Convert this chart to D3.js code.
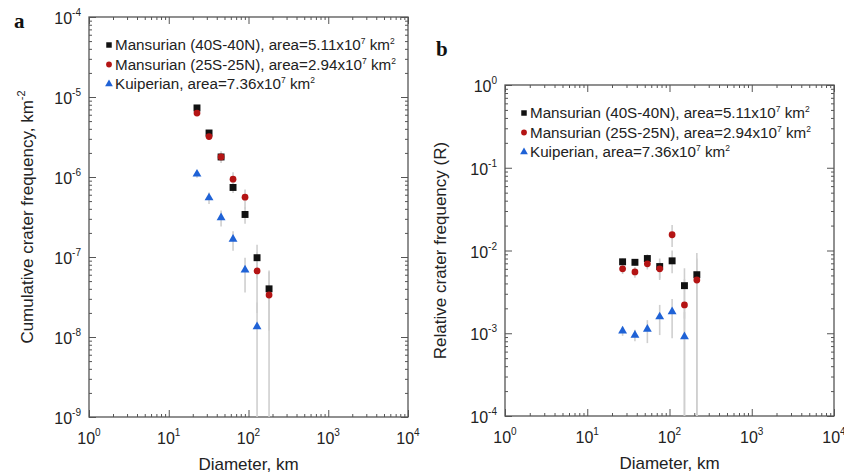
<!DOCTYPE html>
<html>
<head>
<meta charset="utf-8">
<script src="https://cdn.jsdelivr.net/npm/d3@7"></script>
<style>
  body { margin: 0; background: #fff; }
  svg { font-family: "Liberation Sans", Arial, sans-serif; }
</style>
</head>
<body>
<svg id="chart" width="844" height="476"></svg>
<script>
// DATA - panel a (cumulative), bin diameters in km
const diamA = [22.6, 32, 45.3, 64, 90.5, 128, 181]
const cumBlack = [7.3e-6, 3.55e-6, 1.78e-6, 7.4e-7, 3.4e-7, 9.8e-8, 4.0e-8]
const cumBlackLo = [7.0e-6, 3.3e-6, 1.6e-6, 6.3e-7, 2.6e-7, 5.4e-8, 1.2e-8]
const cumBlackHi = [7.7e-6, 3.8e-6, 2.0e-6, 8.6e-7, 4.2e-7, 1.42e-7, 6.8e-8]
const cumRed = [6.3e-6, 3.2e-6, 1.78e-6, 9.4e-7, 5.6e-7, 6.7e-8, 3.35e-8]
const cumRedLo = [5.8e-6, 2.9e-6, 1.5e-6, 7.4e-7, 4.0e-7, 2.0e-8, 0]
const cumRedHi = [6.8e-6, 3.5e-6, 2.1e-6, 1.15e-6, 7.0e-7, 1.15e-7, 6.5e-8]
const cumBlue = [1.09e-6, 5.5e-7, 3.1e-7, 1.67e-7, 6.9e-8, 1.35e-8]
const cumBlueLo = [9.8e-7, 4.6e-7, 2.4e-7, 1.2e-7, 3.6e-8, 0]
const cumBlueHi = [1.2e-6, 6.4e-7, 3.8e-7, 2.1e-7, 9.8e-8, 2.7e-8]

// DATA - panel b (relative, R), bin centre diameters in km
const diamB = [26.9, 38, 53.8, 76, 107.6, 152, 215]
const relBlack = [7.3e-3, 7.2e-3, 8.0e-3, 6.4e-3, 7.5e-3, 3.76e-3, 5.1e-3]
const relBlackLo = [6.6e-3, 6.5e-3, 7.0e-3, 4.6e-3, 5.3e-3, 1.5e-3, 0]
const relBlackHi = [8.0e-3, 7.9e-3, 9.0e-3, 8.0e-3, 1.0e-2, 6.1e-3, 9.3e-3]
const relRed = [6.0e-3, 5.5e-3, 6.9e-3, 6.0e-3, 1.55e-2, 2.2e-3, 4.4e-3]
const relRedLo = [5.2e-3, 4.7e-3, 5.9e-3, 4.4e-3, 1.1e-2, 0, 0]
const relRedHi = [6.9e-3, 6.3e-3, 8.0e-3, 7.3e-3, 2.04e-2, 4.5e-3, 8.0e-3]
const relBlue = [1.07e-3, 9.5e-4, 1.12e-3, 1.58e-3, 1.82e-3, 9.1e-4]
const relBlueLo = [9.3e-4, 8.0e-4, 7.6e-4, 9.5e-4, 8.7e-4, 0]
const relBlueHi = [1.2e-3, 1.1e-3, 1.44e-3, 2.2e-3, 2.6e-3, 1.8e-3]

// legend texts: [main, exponent, after, exponent2]
const legendLabels = [
	["Mansurian (40S-40N), area=5.11x10", "7", " km", "2"],
	["Mansurian (25S-25N), area=2.94x10", "7", " km", "2"],
	["Kuiperian, area=7.36x10", "7", " km", "2"]
]

const COLORS = { black: "#111111", red: "#b41414", blue: "#1f62d6", err: "#cfcfcf", axis: "#555555" }

const svg = d3.select("#chart")

const SHAPES = { square: d3.symbolSquare, circle: d3.symbolCircle, triangle: d3.symbolTriangle }

// PANEL BUILDER
function panel(cfg) {
	const x = d3.scaleLog().domain([1, 1e4]).range([cfg.left, cfg.right])
	const y = d3.scaleLog().domain(cfg.yDomain).range([cfg.bottom, cfg.top])
	const g = svg.append("g")

	const isMajor = v => Math.abs(Math.log10(v) - Math.round(Math.log10(v))) < 1e-9
	const xt = x.ticks(), yt = y.ticks()

	// ticks, inward on all four sides (minor short, major long)
	const axes = [
		[d3.axisBottom(x), `translate(0,${cfg.bottom})`, xt],
		[d3.axisTop(x), `translate(0,${cfg.top})`, xt],
		[d3.axisLeft(y), `translate(${cfg.left},0)`, yt],
		[d3.axisRight(y), `translate(${cfg.right},0)`, yt]
	]
	axes.forEach(([ax, tr, ticks]) => {
		g.append("g").attr("transform", tr)
			.call(ax.tickValues(ticks.filter(v => !isMajor(v))).tickSize(-3).tickSizeOuter(0).tickFormat(""))
			.call(s => s.select(".domain").remove())
			.call(s => s.selectAll("line").attr("stroke", COLORS.axis))
		g.append("g").attr("transform", tr)
			.call(ax.tickValues(ticks.filter(isMajor)).tickSize(-7).tickSizeOuter(0).tickFormat(""))
			.call(s => s.select(".domain").remove())
			.call(s => s.selectAll("line").attr("stroke", COLORS.axis))
	})

	// frame
	g.append("rect")
		.attr("x", cfg.left).attr("y", cfg.top)
		.attr("width", cfg.right - cfg.left).attr("height", cfg.bottom - cfg.top)
		.attr("fill", "none").attr("stroke", COLORS.axis).attr("stroke-width", 1.3)

	// tick labels with superscript exponents
	xt.filter(isMajor).forEach(v => {
		const t = g.append("text").attr("x", x(v)).attr("y", cfg.bottom + 27)
			.attr("text-anchor", "middle").attr("font-size", 16).attr("fill", "#222")
		t.append("tspan").text("10")
		t.append("tspan").attr("font-size", 10).attr("dy", -8).text(Math.round(Math.log10(v)))
	})
	yt.filter(isMajor).forEach(v => {
		const t = g.append("text").attr("x", cfg.left - 8).attr("y", y(v) + 7)
			.attr("text-anchor", "end").attr("font-size", 16).attr("fill", "#222")
		t.append("tspan").text("10")
		t.append("tspan").attr("font-size", 10).attr("dy", -8).text(Math.round(Math.log10(v)))
	})

	// axis titles
	g.append("text")
		.attr("x", (cfg.left + cfg.right) / 2).attr("y", cfg.bottom + 53)
		.attr("text-anchor", "middle").attr("font-size", 17).attr("fill", "#222")
		.text("Diameter, km")
	const yl = g.append("text")
		.attr("transform", `translate(${cfg.yTitleX},${(cfg.top + cfg.bottom) / 2}) rotate(-90)`)
		.attr("text-anchor", "middle").attr("font-size", 17).attr("fill", "#222")
	yl.append("tspan").text(cfg.yTitle)
	if (cfg.yTitleSup) yl.append("tspan").attr("font-size", 11).attr("dy", -8).text(cfg.yTitleSup)

	// panel letter
	g.append("text").attr("x", cfg.letterX).attr("y", cfg.letterY)
		.attr("font-family", "Liberation Serif, serif").attr("font-weight", "bold")
		.attr("font-size", 21).attr("fill", "#111").text(cfg.letter)

	// error bars
	cfg.series.forEach(s => {
		g.selectAll(null).data(s.vals.map((v, i) => ({ d: cfg.diam[i], lo: s.lo[i], hi: s.hi[i] })))
			.enter().append("line")
			.attr("x1", d => x(d.d)).attr("x2", d => x(d.d))
			.attr("y1", d => d.lo > 0 ? y(d.lo) : cfg.bottom)
			.attr("y2", d => y(d.hi))
			.attr("stroke", COLORS.err).attr("stroke-width", 1.6)
	})

	// markers
	const sizes = { square: 48, circle: 36, triangle: 34 }
	cfg.series.forEach(s => {
		g.selectAll(null).data(s.vals.map((v, i) => ({ d: cfg.diam[i], v })))
			.enter().append("path")
			.attr("d", d3.symbol(SHAPES[s.shape], sizes[s.shape]))
			.attr("transform", d => `translate(${x(d.d)},${y(d.v)})`)
			.attr("fill", s.color)
	})

	// legend
	cfg.series.forEach((s, i) => {
		const ly = cfg.legendY + i * 19.5
		g.append("path")
			.attr("d", d3.symbol(SHAPES[s.shape], s.shape === "square" ? 30 : 26)())
			.attr("transform", `translate(${cfg.legendX},${ly})`)
			.attr("fill", s.color)
		const lab = legendLabels[i]
		const t = g.append("text").attr("x", cfg.legendX + 6).attr("y", ly + 5)
			.attr("font-size", 15.2).attr("fill", "#222")
		t.append("tspan").text(lab[0])
		t.append("tspan").attr("font-size", 8.5).attr("dy", -6).text(lab[1])
		t.append("tspan").attr("dy", 6).text(lab[2])
		t.append("tspan").attr("font-size", 8.5).attr("dy", -6).text(lab[3])
	})
}

panel({
	left: 89, right: 408, top: 17, bottom: 417,
	yDomain: [1e-9, 1e-4],
	diam: diamA,
	yTitle: "Cumulative crater frequency, km", yTitleSup: "-2", yTitleX: 33,
	letter: "a", letterX: 14, letterY: 28,
	legendX: 109, legendY: 45,
	series: [
		{ vals: cumBlack, lo: cumBlackLo, hi: cumBlackHi, color: COLORS.black, shape: "square" },
		{ vals: cumRed, lo: cumRedLo, hi: cumRedHi, color: COLORS.red, shape: "circle" },
		{ vals: cumBlue, lo: cumBlueLo, hi: cumBlueHi, color: COLORS.blue, shape: "triangle" }
	]
})

panel({
	left: 505, right: 834, top: 85, bottom: 416,
	yDomain: [1e-4, 1],
	diam: diamB,
	yTitle: "Relative crater frequency (R)", yTitleSup: null, yTitleX: 446,
	letter: "b", letterX: 436, letterY: 56,
	legendX: 524, legendY: 113,
	series: [
		{ vals: relBlack, lo: relBlackLo, hi: relBlackHi, color: COLORS.black, shape: "square" },
		{ vals: relRed, lo: relRedLo, hi: relRedHi, color: COLORS.red, shape: "circle" },
		{ vals: relBlue, lo: relBlueLo, hi: relBlueHi, color: COLORS.blue, shape: "triangle" }
	]
})
</script>
</body>
</html>
